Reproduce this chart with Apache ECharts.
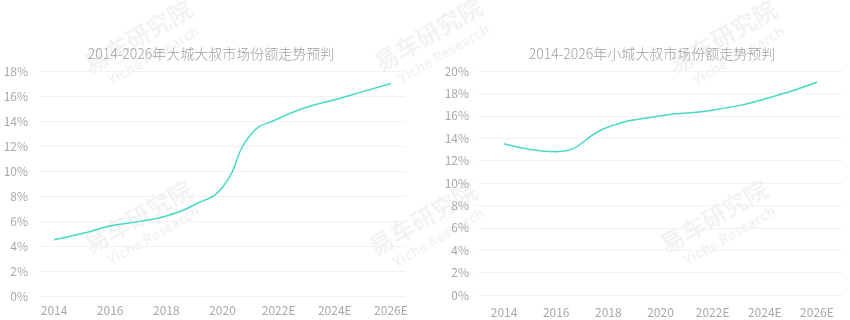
<!DOCTYPE html>
<html>
<head>
<meta charset="utf-8">
<script src="https://cdn.jsdelivr.net/npm/echarts@6/dist/echarts.min.js"></script>
<style>
html,body{margin:0;padding:0;background:#fff;}
#c{width:850px;height:320px;}
</style>
</head>
<body>
<div id="c"></div>
<script>
// ---- data ----
var leftTitle = '2014-2026年大城大叔市场份额走势预判';
var rightTitle = '2014-2026年小城大叔市场份额走势预判';
var leftCategories = ['2014','2015','2016','2017','2018','2019','2020','2021','2022E','2023E','2024E','2025E','2026E'];
var leftValues = [4.5, 5.0, 5.6, 5.95, 6.4, 7.3, 8.7, 12.9, 14.2, 15.1, 15.7, 16.35, 17.0];
var rightCategories = ['2014','2016','2018','2020','2022E','2024E','2026E'];
var rightValues = [13.5, 12.8, 15.0, 16.0, 16.5, 17.5, 19.0];
var leftYMax = 18, rightYMax = 20, yStep = 2;

var chart = echarts.init(document.getElementById('c'), null, {renderer:'canvas'});
var FONT = '"Noto Sans CJK SC", "Noto Sans", sans-serif';
var LABEL_COLOR = '#a8a8a8';
var LINE_COLOR = '#45d9c8';

function yAxis(gridIndex, max, margin){
  return {
    type:'value', gridIndex:gridIndex, min:0, max:max, interval:yStep,
    axisLine:{show:false}, axisTick:{show:false},
    splitLine:{lineStyle:{color:'#f2f2f2', width:1}},
    axisLabel:{formatter:'{value}%', color:LABEL_COLOR, fontSize:12, fontFamily:FONT, margin:margin}
  };
}
function xAxis(gridIndex, cats, interval, margin){
  return {
    type:'category', gridIndex:gridIndex, data:cats, boundaryGap:true,
    axisLine:{show:false}, axisTick:{show:false},
    axisLabel:{interval:interval, color:LABEL_COLOR, fontSize:12, fontFamily:FONT, margin:margin}
  };
}

var wmGraphics = [];
var wmPos = [[140,40],[430,38],[725,40],[140,220],[425,222],[716,220]];
wmPos.forEach(function(p){
  wmGraphics.push({
    type:'group', x:p[0], y:p[1], rotation:Math.PI/6, silent:true, z:100,
    children:[
      {type:'text', style:{text:'易车研究院', x:0, y:-4, fill:'rgba(200,200,200,0.22)', font:'bold 24px ' + FONT, align:'center', verticalAlign:'middle'}},
      {type:'text', style:{text:'Yiche Research', x:4, y:20, fill:'rgba(200,200,200,0.22)', font:'bold 14px ' + FONT, align:'center', verticalAlign:'middle'}}
    ]
  });
});

chart.setOption({
  animation:false,
  backgroundColor:'#fff',
  title:[
    {text:leftTitle, left:206, top:42, textAlign:'center', textStyle:{color:'#a0a0a0', fontSize:14, fontWeight:300, fontFamily:FONT}},
    {text:rightTitle, left:647, top:42, textAlign:'center', textStyle:{color:'#a0a0a0', fontSize:14, fontWeight:300, fontFamily:FONT}}
  ],
  grid:[
    {left:40, width:365, top:71, height:225, containLabel:false},
    {left:478, width:365, top:71, height:224, containLabel:false}
  ],
  xAxis:[xAxis(0, leftCategories, 1, 8), xAxis(1, rightCategories, 0, 11)],
  yAxis:[yAxis(0, leftYMax, 12), yAxis(1, rightYMax, 9)],
  series:[
    {type:'line', xAxisIndex:0, yAxisIndex:0, data:leftValues, smooth:true, showSymbol:false, symbol:'none',
     lineStyle:{color:LINE_COLOR, width:1.5}},
    {type:'line', xAxisIndex:1, yAxisIndex:1, data:rightValues, smooth:true, showSymbol:false, symbol:'none',
     lineStyle:{color:LINE_COLOR, width:1.5}}
  ],
  graphic:wmGraphics
});
</script>
</body>
</html>
